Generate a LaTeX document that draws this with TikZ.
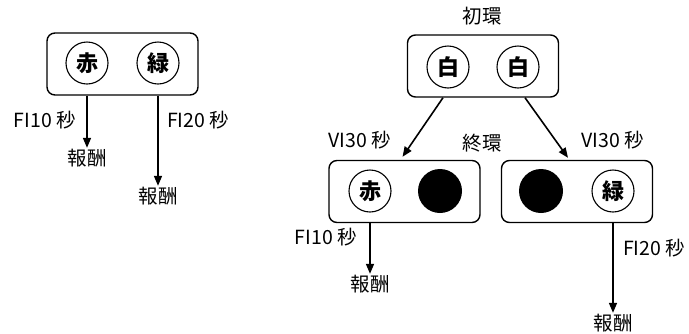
\documentclass[tikz,border=0pt]{standalone}
\usepackage{fontspec}
\setmainfont{Noto Sans CJK JP}
\usetikzlibrary{arrows.meta}
\begin{document}
\begin{tikzpicture}[x=1pt,y=-1pt,
  box/.style={draw, line width=1.4pt, rounded corners=8pt, minimum width=151pt, minimum height=62pt, inner sep=0pt},
  lamp/.style={draw, circle, line width=1.1pt, minimum size=42pt, inner sep=0pt, font=\bfseries\fontsize{22}{22}\selectfont},
  dark/.style={circle, fill=black, minimum size=44pt, inner sep=0pt},
  arr/.style={line width=1.6pt, -{Triangle[width=8pt,length=10pt]}},
  lbl/.style={font=\fontsize{19.5}{20}\selectfont, inner sep=1pt}]
\useasboundingbox (0,0) rectangle (689,333);
% left panel
\node[box] (L) at (122.5,64) {};
\node[lamp] (La) at (87,63) {赤};
\node[lamp] (Lb) at (158,63) {緑};
\node[lbl] (Lr1) at (87,158) {報酬};
\node[lbl] (Lr2) at (158,196) {報酬};
\draw[arr] (La |- L.south) -- (Lr1.north);
\draw[arr] (Lb |- L.south) -- (Lr2.north);
\node[lbl, anchor=east] (Lf1) at (77,120) {FI10 秒};
\node[lbl, anchor=west] (Lf2) at (166,120) {FI20 秒};
% right panel
\node[lbl] (T0) at (482,16) {初環};
\node[box] (T) at (483,66) {};
\node[lamp] (Ta) at (448,67) {白};
\node[lamp] (Tb) at (518,67) {白};
\node[box] (B1) at (404.5,191.5) {};
\node[box] (B2) at (577,191.5) {};
\node[lamp] (B1a) at (370,191) {赤};
\node[dark] (B1b) at (440,191) {};
\node[dark] (B2a) at (541,191) {};
\node[lamp] (B2b) at (613,191) {緑};
\draw[arr] ([xshift=-40pt]T.south) -- ([xshift=-2pt,yshift=3pt]B1.north);
\draw[arr] ([xshift=42pt]T.south) -- ([xshift=-9pt,yshift=2pt]B2.north);
\node[lbl] (V1) at (360,140) {VI30 秒};
\node[lbl] (E) at (482,143) {終環};
\node[lbl] (V2) at (613,140) {VI30 秒};
\node[lbl] (Br1) at (370,284) {報酬};
\node[lbl] (Br2) at (613,323) {報酬};
\draw[arr] (B1a |- B1.south) -- (Br1.north);
\draw[arr] (B2b |- B2.south) -- (Br2.north);
\node[lbl, anchor=east] (Bf1) at (358,237) {FI10 秒};
\node[lbl, anchor=west] (Bf2) at (622,248) {FI20 秒};
\end{tikzpicture}
\end{document}
